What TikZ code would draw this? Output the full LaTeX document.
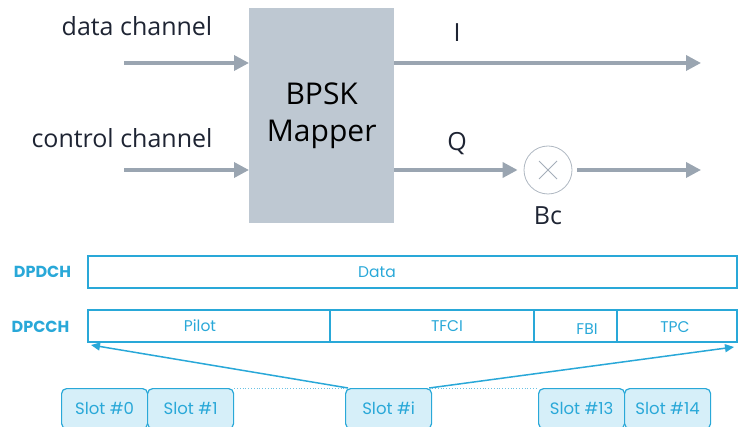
\documentclass[tikz,border=0pt]{standalone}
\usepackage{fontspec}
\setmainfont{Open Sans}
\newfontfamily\geo{Poppins}
\usetikzlibrary{arrows.meta,calc}
\definecolor{mapgray}{HTML}{BEC8D2}
\definecolor{linegray}{HTML}{9AA5B1}
\definecolor{ink}{HTML}{1E2433}
\definecolor{chcyan}{HTML}{29A8D8}
\definecolor{slotfill}{HTML}{D6EFF9}
\tikzset{
  sig/.style={draw=linegray, line width=3.5pt, -{Triangle[length=15pt,width=15pt]}},
  lbl/.style={text=ink, font=\fontsize{25}{27}\selectfont, inner sep=0pt},
  chlbl/.style={text=chcyan, font=\geo\bfseries\fontsize{16}{18}\selectfont, inner sep=0pt},
  fieldtxt/.style={text=chcyan, font=\geo\fontsize{15.5}{17}\selectfont, inner sep=0pt},
  field/.style={draw=chcyan, line width=1.2pt},
  slotbox/.style={draw=chcyan, fill=slotfill, line width=1.2pt, rounded corners=5pt,
    minimum width=86pt, minimum height=40pt, inner sep=0pt, anchor=north west,
    text=chcyan, font=\geo\fontsize{16.5}{18}\selectfont},
  link/.style={draw=chcyan, line width=1.5pt, -{Triangle[length=9pt,width=8pt]}}
}
\begin{document}
\begin{tikzpicture}[x=1pt,y=-1pt]
\useasboundingbox (0,0) rectangle (738,427);
% mapper block
\node[fill=mapgray, minimum width=145pt, minimum height=215pt, inner sep=0pt, anchor=north west,
  align=center, font=\fontsize{30}{37}\selectfont, text=black] (map) at (249,8) {BPSK\\Mapper};
% inputs
\coordinate (din) at (124,63);
\coordinate (cin) at (124,170);
\node[lbl] (dl) at (137,26) {data channel};
\node[lbl] (cl) at (122,138) {control channel};
\draw[sig] (din) -- (din -| map.west);
\draw[sig] (cin) -- (cin -| map.west);
% outputs
\coordinate (iout) at (701,63);
\coordinate (qout) at (701,170);
\node[lbl] (il) at (457,33) {I};
\node[lbl] (ql) at (457,144) {Q};
\node[circle, draw=linegray!80, line width=0.8pt, minimum size=48pt, inner sep=0pt] (mul) at (548,170) {};
\draw[linegray!90, line width=0.8pt] ($(mul.center)+(-9,-9)$) -- ($(mul.center)+(9,9)$);
\draw[linegray!90, line width=0.8pt] ($(mul.center)+(-9,9)$) -- ($(mul.center)+(9,-9)$);
\node[lbl] (bc) at (548,216) {Bc};
\draw[sig] (iout -| map.east) -- (iout);
\draw[sig] (qout -| map.east) -- ([xshift=-6pt]mul.west);
\draw[sig] ([xshift=5pt]mul.east) -- (qout);
% channel frames
\node[chlbl] (dpdch) at (42.5,272) {DPDCH};
\node[chlbl] (dpcch) at (40.5,327) {DPCCH};
\draw[field] (88,256) rectangle (737,288);
\node[fieldtxt] (data) at (377,272) {Data};
\draw[field] (88,310) rectangle (737,342);
\draw[field] (330,310) -- (330,342);
\draw[field] (534,310) -- (534,342);
\draw[field] (617,310) -- (617,342);
\node[fieldtxt] (pilot) at (200,326) {Pilot};
\node[fieldtxt] (tfci) at (447,326) {TFCI};
\node[fieldtxt] (fbi) at (587,329) {FBI};
\node[fieldtxt] (tpc) at (675,327) {TPC};
\coordinate (fl) at (91,345);
\coordinate (fr) at (734,347);
% slots
\node[slotbox] (s0) at (61,388) {Slot \#0};
\node[slotbox] (s1) at (147,388) {Slot \#1};
\node[slotbox] (si) at (345,388) {Slot \#i};
\node[slotbox] (s13) at (538,388) {Slot \#13};
\node[slotbox] (s14) at (624,388) {Slot \#14};
\draw[chcyan!70, line width=0.8pt, dotted] (s1.north east) -- (si.north west);
\draw[chcyan!70, line width=0.8pt, dotted] (si.north east) -- (s13.north west);
\draw[link] ([xshift=3pt]si.north west) -- (fl);
\draw[link] ([xshift=-3pt]si.north east) -- (fr);
\end{tikzpicture}
\end{document}
